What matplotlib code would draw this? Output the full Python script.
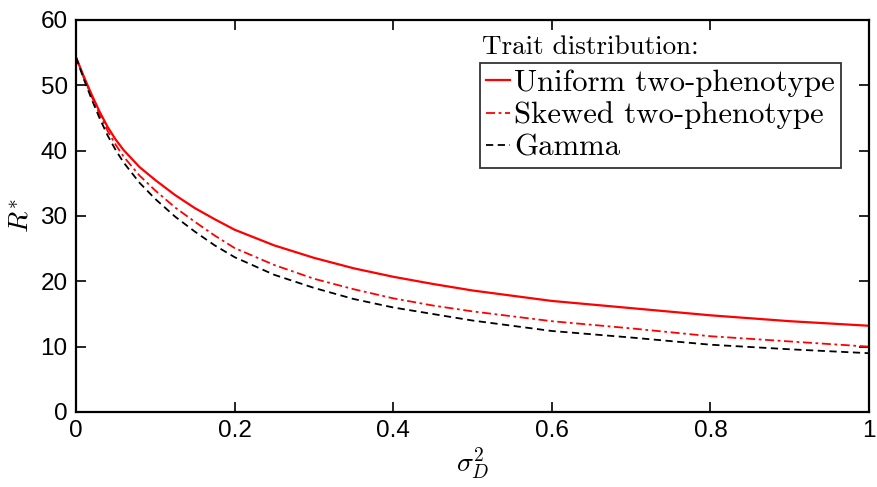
import matplotlib
matplotlib.use("Agg")
import matplotlib.pyplot as plt

# Data
sigma2 = [0.0, 0.01, 0.02, 0.03, 0.04, 0.05, 0.06, 0.08, 0.1, 0.125, 0.15, 0.175,
          0.2, 0.25, 0.3, 0.35, 0.4, 0.45, 0.5, 0.6, 0.7, 0.8, 0.9, 1.0]
uniform = [54.3, 51.3, 48.5, 45.9, 43.6, 41.7, 40.1, 37.5, 35.5, 33.2, 31.2, 29.5,
           27.9, 25.5, 23.6, 22.0, 20.7, 19.6, 18.6, 17.0, 15.9, 14.8, 13.9, 13.2]
skewed = [54.3, 51.1, 48.2, 45.5, 43.0, 40.9, 39.1, 36.2, 33.9, 31.3, 29.1, 27.0,
          25.1, 22.5, 20.4, 18.8, 17.4, 16.3, 15.4, 13.9, 12.8, 11.6, 10.8, 10.0]
gamma = [54.3, 50.9, 47.8, 44.9, 42.3, 40.1, 38.2, 35.1, 32.6, 29.9, 27.6, 25.5,
         23.7, 21.0, 19.0, 17.3, 16.0, 15.0, 14.0, 12.4, 11.4, 10.3, 9.6, 9.0]

series_labels = ["Uniform two-phenotype", "Skewed two-phenotype", "Gamma"]
legend_title = "Trait distribution:"
xticks = [0, 0.2, 0.4, 0.6, 0.8, 1]
xticklabels = ["0", "0.2", "0.4", "0.6", "0.8", "1"]
yticks = [0, 10, 20, 30, 40, 50, 60]

plt.rcParams["mathtext.fontset"] = "cm"

fig = plt.figure(figsize=(8.77, 4.87), dpi=100)
ax = fig.add_axes([76 / 877, 1 - 412 / 487, 793 / 877, 392 / 487])

ax.plot(sigma2, uniform, color="red", lw=1.6, ls="-", label=series_labels[0])
ax.plot(sigma2, skewed, color="red", lw=1.3, dashes=(5, 2, 1.5, 2), label=series_labels[1])
ax.plot(sigma2, gamma, color="black", lw=1.3, dashes=(4, 2.5), label=series_labels[2])

ax.set_xlim(0, 1)
ax.set_ylim(0, 60)
ax.set_xticks(xticks)
ax.set_xticklabels(xticklabels)
ax.set_yticks(yticks)

for lab in ax.get_xticklabels() + ax.get_yticklabels():
    lab.set_fontfamily("Liberation Sans")
    lab.set_fontsize(17.5)

ax.tick_params(direction="in", length=7, width=1.2, top=True, right=True, pad=6)
for sp in ax.spines.values():
    sp.set_linewidth(1.6)

ax.set_xlabel(r"$\sigma_D^2$", fontsize=20, labelpad=2)
ax.set_ylabel(r"$R^{*}$", fontsize=20, labelpad=4)

leg = ax.legend(loc="upper left", bbox_to_anchor=(0.509, 0.890),
                prop={"family": "cmr10", "size": 22.2},
                frameon=True, fancybox=False, edgecolor="black",
                handlelength=0.8, handletextpad=0.12, borderpad=0.2,
                labelspacing=0.15, borderaxespad=0)
leg.get_frame().set_linewidth(1.3)

ax.text(0.5115, 0.930, legend_title, transform=ax.transAxes,
        fontfamily="cmr10", fontsize=19.5, va="center", ha="left")

fig.savefig("out.png", dpi=100)
